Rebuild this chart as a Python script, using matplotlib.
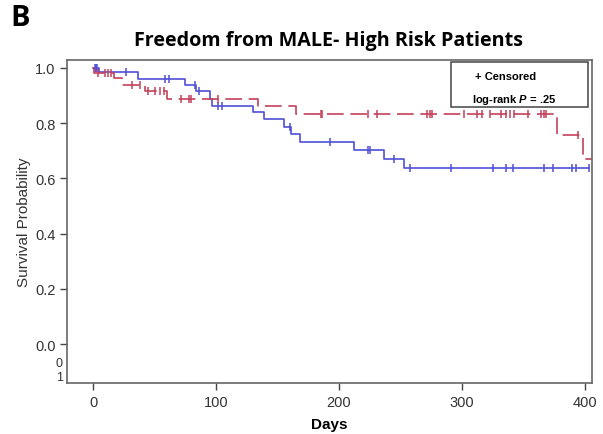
import numpy as np
import matplotlib
matplotlib.use("Agg")
import matplotlib.pyplot as plt
from matplotlib.patches import Rectangle

# Kaplan-Meier steps (day, survival after the event)
blue_t = [0, 4.5, 36.5, 75, 83.5, 95, 96.5, 130, 139, 155, 161, 168, 212, 236.6, 252.6, 403.5]
blue_s = [1.0, 0.984, 0.960, 0.940, 0.915, 0.889, 0.864, 0.840, 0.815, 0.786, 0.760, 0.733, 0.703, 0.670, 0.638, 0.638]
blue_cens = [1, 2, 3, 27, 58, 62, 82.7, 86, 101.6, 104.4, 160.5, 193, 224, 225.5, 245,
             258, 291, 325, 335.7, 342, 367.3, 374.2, 390, 393.2, 403.5]

red_t = [0, 0.5, 16.7, 23.5, 41.7, 59.9, 134, 165.2, 377.5, 398.6, 406]
red_s = [1.0, 0.982, 0.963, 0.938, 0.916, 0.888, 0.863, 0.833, 0.759, 0.672, 0.672]
red_cens = [3.4, 9.1, 11.8, 14.6, 31.7, 37.6, 44.4, 49.8, 53.9, 57.9, 71.6, 77.8, 79.7,
            101.4, 185.6, 186.4, 223.5, 231, 271.6, 273.8, 276, 301.5, 312.3, 316.7,
            323.2, 332.2, 336.2, 339.5, 342.2, 353.8, 364.7, 366.6, 368.2, 394.5]

x_ticks = [0, 100, 200, 300, 400]
y_ticks = [0.0, 0.2, 0.4, 0.6, 0.8, 1.0]

BLUE = "#4f4fd6"
RED = "#c4415a"

plt.rcParams['font.family'] = ['Liberation Sans', 'DejaVu Sans']
plt.rcParams['mathtext.fontset'] = 'custom'
plt.rcParams['mathtext.it'] = 'Liberation Sans:italic:bold'


def surv_at(times, surv, t):
    idx = np.searchsorted(np.asarray(times), np.asarray(t), side="right") - 1
    return np.asarray(surv)[idx]


fig = plt.figure(figsize=(6.03, 4.35), dpi=100)
ax = fig.add_axes([0.1116, 0.1172, 0.8702, 0.7426])

ax.step(blue_t, blue_s, where="post", color=BLUE, lw=1.2)
ax.plot(blue_cens, surv_at(blue_t, blue_s, blue_cens), ls="none", marker="|",
        ms=6, mew=1.1, color=BLUE)

ax.step(red_t, red_s, where="post", color=RED, lw=1.2, ls=(0, (10, 4)))
ax.plot(red_cens, surv_at(red_t, red_s, red_cens), ls="none", marker="|",
        ms=6, mew=1.1, color=RED)

ax.set_xlim(-21.2, 406)
ax.set_ylim(-0.141, 1.029)
ax.set_xticks(x_ticks)
ax.set_yticks(y_ticks)
ax.set_yticklabels([f"{v:.1f}" for v in y_ticks])
ax.tick_params(direction="out", length=5, width=1, colors="#444444",
               labelsize=10.5, labelcolor="#333333")
for sp in ax.spines.values():
    sp.set_color("#666666")
    sp.set_linewidth(1.2)

ax.set_xlabel("Days", fontsize=11, fontweight="bold", labelpad=6)
ax.set_ylabel("Survival Probability", fontsize=11, color="#333333", labelpad=3)

# legend box
ax.add_patch(Rectangle((0.7307, 0.8554), 0.2623, 0.1375, transform=ax.transAxes,
                       fill=False, ec="#444444", lw=1.1, zorder=5))
ax.text(0.777, 0.951, "+ Censored", transform=ax.transAxes, fontsize=8,
        fontweight="bold", va="center", ha="left")
ax.text(0.771, 0.879, "log-rank $P$ = .25", transform=ax.transAxes, fontsize=8,
        fontweight="bold", va="center", ha="left")

# stray tick labels under 0.0
fig.text(63 / 603, 1 - 364 / 435, "0", fontsize=9, color="#333333", ha="right", va="center")
fig.text(63 / 603, 1 - 378 / 435, "1", fontsize=9, color="#333333", ha="right", va="center")

fig.text(328 / 603, 1 - 41 / 435, "Freedom from MALE- High Risk Patients",
         fontsize=14.2, fontweight="bold", ha="center", va="center",
         family=["Open Sans", "DejaVu Sans"])
fig.text(10 / 603, 1 - 19 / 435, "B", fontsize=21, fontweight="bold",
         ha="left", va="center", family=["Open Sans", "DejaVu Sans"])

fig.savefig("out.png", dpi=100)
plt.close(fig)
